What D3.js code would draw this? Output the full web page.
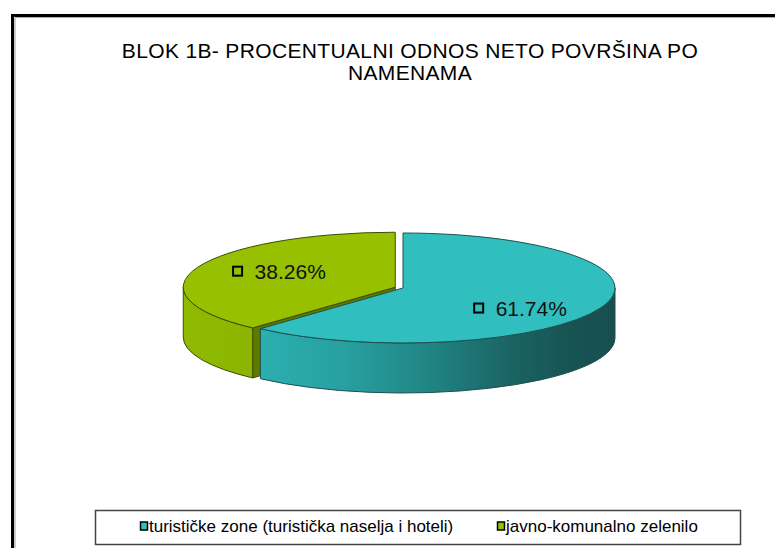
<!DOCTYPE html>
<html>
<head>
<meta charset="utf-8">
<script src="https://cdn.jsdelivr.net/npm/d3@7"></script>
<style>
  html, body { margin: 0; padding: 0; background: #fff; }
  svg { display: block; }
  text { font-family: "Liberation Sans", Arial, sans-serif; }
</style>
</head>
<body>
<svg id="chart" width="775" height="548"></svg>
<script>
// ---- data ----
const titleLines = ["BLOK 1B- PROCENTUALNI ODNOS NETO POVRŠINA PO", "NAMENAMA"];
const categories = ["turističke zone (turistička naselja i hoteli)", "javno-komunalno zelenilo"];
const values = [61.74, 38.26];
const valueLabels = ["61.74%", "38.26%"];
const topColors = ["#31bebe", "#97c000"];
const exploded = [0, 1];

// ---- layout ----
const W = 775, H = 548;
const cx = 403, cy = 288, rx = 212, ry = 55, depth = 50, explodeDist = 8.3;

const svg = d3.select("#chart");
svg.append("rect").attr("width", W).attr("height", H).attr("fill", "#fff");

// frame
svg.append("line").attr("x1", 15).attr("y1", 18).attr("x2", 15).attr("y2", H).attr("stroke", "#999").attr("stroke-width", 1);
svg.append("line").attr("x1", 15).attr("y1", 17.5).attr("x2", W).attr("y2", 17.5).attr("stroke", "#aaa").attr("stroke-width", 1);
svg.append("path").attr("d", `M12.5,${H} L12.5,15.5 L${W},15.5`).attr("fill", "none").attr("stroke", "#000").attr("stroke-width", 3);

// title
const title = svg.append("text").attr("text-anchor", "middle").attr("font-size", 21).attr("fill", "#000")
  .attr("letter-spacing", 0.35);
titleLines.forEach((t, i) => {
  title.append("tspan").attr("x", 410).attr("y", 58 + i * 22).text(t);
});

// defs: gradients for side walls
const defs = svg.append("defs");
const g1 = defs.append("linearGradient").attr("id", "tealSide").attr("gradientUnits", "userSpaceOnUse")
  .attr("x1", 255).attr("y1", 0).attr("x2", 615).attr("y2", 0);
[[0, "#2cb0b0"], [0.25, "#27a0a0"], [0.5, "#208282"], [0.72, "#1b6262"], [0.88, "#175353"], [1, "#174f4f"]]
  .forEach(([o, c]) => g1.append("stop").attr("offset", o).attr("stop-color", c));
const g2 = defs.append("linearGradient").attr("id", "greenSide").attr("gradientUnits", "userSpaceOnUse")
  .attr("x1", 180).attr("y1", 0).attr("x2", 300).attr("y2", 0);
[[0, "#90bb00"], [1, "#87b000"]].forEach(([o, c]) => g2.append("stop").attr("offset", o).attr("stop-color", c));
const sideFills = ["url(#tealSide)", "url(#greenSide)"];
const cutFills = ["#1c6b6b", "#5f7a00"];
const strokeCols = ["#1f4f4f", "#3d4d00"];

// pie layout
const pie = d3.pie().sort(null).value(d => d)(values);

function pt(a, ox, oy, dz) {
  return [ox + rx * Math.sin(a), oy - ry * Math.cos(a) + (dz || 0)];
}

const slices = pie.map((p, i) => {
  const mid = (p.startAngle + p.endAngle) / 2;
  const off = exploded[i] ? explodeDist : 0;
  const ox = cx + off * Math.sin(mid);
  const oy = cy - off * (ry / rx) * Math.cos(mid);
  return { p, i, mid, ox, oy };
});

function arcPath(s) {
  const { p, ox, oy } = s;
  const [x0, y0] = pt(p.startAngle, ox, oy);
  const [x1, y1] = pt(p.endAngle, ox, oy);
  const large = (p.endAngle - p.startAngle) > Math.PI ? 1 : 0;
  return `M${ox},${oy} L${x0},${y0} A${rx},${ry} 0 ${large} 1 ${x1},${y1} Z`;
}
function sidePath(s) {
  const { p, ox, oy } = s;
  const a0 = Math.max(p.startAngle, Math.PI / 2);
  const a1 = Math.min(p.endAngle, 3 * Math.PI / 2);
  if (a1 <= a0) return null;
  const [x0, y0] = pt(a0, ox, oy);
  const [x1, y1] = pt(a1, ox, oy);
  const large = (a1 - a0) > Math.PI ? 1 : 0;
  return `M${x0},${y0} A${rx},${ry} 0 ${large} 1 ${x1},${y1} L${x1},${y1 + depth} A${rx},${ry} 0 ${large} 0 ${x0},${y0 + depth} Z`;
}
function cutPath(s, a) {
  const { ox, oy } = s;
  const [x, y] = pt(a, ox, oy);
  return `M${ox},${oy} L${x},${y} L${x},${y + depth} L${ox},${oy + depth} Z`;
}
// cut face is visible if its outward normal points toward viewer (down on screen)
function cutVisible(a, isStart) {
  const n = isStart ? a - Math.PI / 2 : a + Math.PI / 2;
  return -Math.cos(n) > 0.01;
}

const pieG = svg.append("g");
// draw exploded (back-left) slice first, then the other
const order = slices.slice().sort((a, b) => exploded[b.i] - exploded[a.i]);
order.forEach(s => {
  const g = pieG.append("g");
  [[s.p.startAngle, true], [s.p.endAngle, false]].forEach(([a, st]) => {
    if (cutVisible(a, st)) {
      g.append("path").attr("d", cutPath(s, a)).attr("fill", cutFills[s.i])
        .attr("stroke", strokeCols[s.i]).attr("stroke-width", 1).attr("stroke-linejoin", "round");
    }
  });
  const sp = sidePath(s);
  if (sp) g.append("path").attr("d", sp).attr("fill", sideFills[s.i])
    .attr("stroke", strokeCols[s.i]).attr("stroke-width", 1).attr("stroke-linejoin", "round");
  g.append("path").attr("d", arcPath(s)).attr("fill", topColors[s.i])
    .attr("stroke", strokeCols[s.i]).attr("stroke-width", 1).attr("stroke-linejoin", "round");
});

// data labels
slices.forEach(s => {
  const ax = s.ox + 0.59 * rx * Math.sin(s.mid);
  const ay = s.oy + 2 - 0.91 * ry * Math.cos(s.mid);
  const g = svg.append("g");
  g.append("rect").attr("x", ax - 45.5).attr("y", ay - 4.5).attr("width", 9).attr("height", 9)
    .attr("fill", topColors[s.i]).attr("stroke", "#000").attr("stroke-width", 2);
  g.append("text").attr("x", ax - 24).attr("y", ay + 7.5).attr("font-size", 21).attr("fill", "#111")
    .text(valueLabels[s.i]);
});

// legend
svg.append("rect").attr("x", 95.5).attr("y", 510.5).attr("width", 645).attr("height", 34)
  .attr("fill", "#fff").attr("stroke", "#444").attr("stroke-width", 1.5);
const legendX = [140, 497];
categories.forEach((c, i) => {
  svg.append("rect").attr("x", legendX[i] + 0.5).attr("y", 522).attr("width", 7).attr("height", 8)
    .attr("fill", topColors[i]).attr("stroke", "#000").attr("stroke-width", 1.5);
  svg.append("text").attr("x", legendX[i] + 9).attr("y", 532).attr("font-size", 17).attr("fill", "#000")
    .text(c);
});
</script>
</body>
</html>
